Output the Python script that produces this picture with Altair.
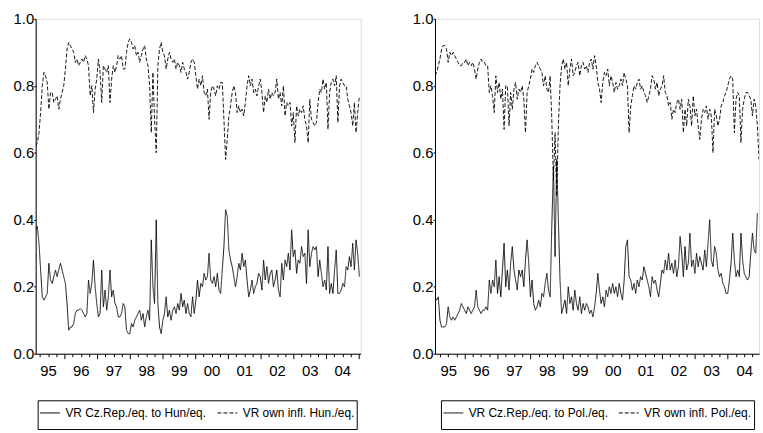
import altair as alt
import pandas as pd

FONT = "Liberation Sans"

# ---- left panel (Czech Rep. vs Hungary) ----
L_START = 1995.12
L_STEP = 5 / 99
L_SOLID_NAME = "VR Cz.Rep./eq. to Hun/eq."
L_DASH_NAME = "VR own infl. Hun./eq."
L_DASHED = [
    0.62, 0.63, 0.66, 0.72, 0.80, 0.84, 0.83, 0.81, 0.73, 0.78,
    0.78, 0.75, 0.76, 0.77, 0.73, 0.76, 0.78, 0.80, 0.85, 0.91,
    0.93, 0.92, 0.91, 0.90, 0.87, 0.88, 0.86, 0.87, 0.88, 0.87,
    0.89, 0.88, 0.86, 0.77, 0.80, 0.72, 0.79, 0.82, 0.88, 0.84,
    0.75, 0.86, 0.85, 0.84, 0.86, 0.75, 0.82, 0.86, 0.84, 0.86,
    0.89, 0.88, 0.89, 0.85, 0.85, 0.90, 0.93, 0.94, 0.93, 0.91,
    0.92, 0.89, 0.90, 0.87, 0.89, 0.91, 0.92, 0.88, 0.86, 0.80,
    0.66, 0.84, 0.70, 0.60, 0.86, 0.91, 0.93, 0.90, 0.89, 0.85,
    0.88, 0.90, 0.88, 0.87, 0.88, 0.85, 0.87, 0.86, 0.84, 0.87,
    0.85, 0.84, 0.82, 0.84, 0.87, 0.88, 0.87, 0.83, 0.79, 0.82,
    0.80, 0.83, 0.78, 0.77, 0.79, 0.70, 0.78, 0.80, 0.79, 0.77,
    0.80, 0.79, 0.81, 0.81, 0.70, 0.58, 0.64, 0.71, 0.74, 0.78,
    0.80, 0.78, 0.72, 0.74, 0.72, 0.73, 0.71, 0.75, 0.80, 0.83,
    0.80, 0.82, 0.78, 0.79, 0.77, 0.80, 0.82, 0.78, 0.72, 0.77,
    0.75, 0.79, 0.76, 0.78, 0.77, 0.78, 0.82, 0.76, 0.78, 0.74,
    0.80, 0.71, 0.75, 0.74, 0.75, 0.68, 0.72, 0.63, 0.74, 0.71,
    0.73, 0.72, 0.74, 0.70, 0.68, 0.63, 0.76, 0.70, 0.69, 0.68,
    0.69, 0.75, 0.79, 0.78, 0.82, 0.79, 0.81, 0.67, 0.78, 0.81,
    0.82, 0.80, 0.83, 0.69, 0.80, 0.82, 0.81, 0.80, 0.80, 0.76,
    0.74, 0.72, 0.68, 0.75, 0.66, 0.72, 0.77,
]
L_SOLID = [
    0.37, 0.38, 0.33, 0.25, 0.17, 0.16, 0.17, 0.18, 0.27, 0.22,
    0.21, 0.23, 0.25, 0.23, 0.25, 0.27, 0.25, 0.23, 0.21, 0.15,
    0.07, 0.08, 0.08, 0.09, 0.12, 0.13, 0.13, 0.135, 0.13, 0.12,
    0.11, 0.12, 0.22, 0.18, 0.21, 0.28, 0.20, 0.15, 0.11, 0.12,
    0.25, 0.14, 0.19, 0.13, 0.17, 0.25, 0.17, 0.19, 0.15, 0.14,
    0.11, 0.11, 0.12, 0.15, 0.14, 0.07, 0.06, 0.06, 0.09, 0.08,
    0.10, 0.11, 0.12, 0.13, 0.10, 0.12, 0.08, 0.11, 0.13, 0.10,
    0.34, 0.20, 0.15, 0.40, 0.15, 0.08, 0.06, 0.10, 0.12, 0.17,
    0.11, 0.13, 0.10, 0.13, 0.14, 0.12, 0.15, 0.13, 0.18, 0.14,
    0.16, 0.12, 0.15, 0.12, 0.11, 0.17, 0.12, 0.16, 0.22, 0.17,
    0.21, 0.20, 0.24, 0.22, 0.23, 0.30, 0.22, 0.21, 0.23, 0.20,
    0.24, 0.19, 0.18, 0.25, 0.32, 0.43, 0.41, 0.31, 0.28, 0.26,
    0.23, 0.20, 0.23, 0.27, 0.25, 0.30, 0.26, 0.28, 0.22, 0.17,
    0.19, 0.22, 0.18, 0.20, 0.21, 0.24, 0.23, 0.19, 0.28, 0.22,
    0.26, 0.21, 0.24, 0.25, 0.20, 0.22, 0.25, 0.19, 0.17, 0.27,
    0.22, 0.28, 0.26, 0.30, 0.25, 0.37, 0.29, 0.31, 0.24, 0.28,
    0.27, 0.32, 0.29, 0.30, 0.21, 0.37, 0.26, 0.30, 0.32, 0.31,
    0.32, 0.23, 0.28, 0.24, 0.20, 0.22, 0.19, 0.32, 0.18, 0.21,
    0.18, 0.25, 0.31, 0.18, 0.18, 0.19, 0.21, 0.20, 0.26, 0.25,
    0.29, 0.26, 0.33, 0.25, 0.34, 0.30, 0.23,
]

# ---- right panel (Czech Rep. vs Poland) ----
R_START = 1995.10
R_STEP = 0.05
R_SOLID_NAME = "VR Cz.Rep./eq. to Pol./eq."
R_DASH_NAME = "VR own infl. Pol./eq."
R_DASHED = [
    0.83, 0.84, 0.86, 0.88, 0.91, 0.92, 0.92, 0.91, 0.87, 0.90,
    0.89, 0.90, 0.89, 0.88, 0.87, 0.86, 0.86, 0.87, 0.87, 0.88,
    0.86, 0.87, 0.86, 0.87, 0.85, 0.82, 0.85, 0.87, 0.88, 0.87,
    0.87, 0.86, 0.86, 0.78, 0.80, 0.77, 0.72, 0.83, 0.78, 0.81,
    0.76, 0.79, 0.67, 0.80, 0.80, 0.68, 0.78, 0.73, 0.79, 0.81,
    0.76, 0.79, 0.78, 0.80, 0.76, 0.66, 0.78, 0.80, 0.82, 0.85,
    0.84, 0.86, 0.87, 0.86, 0.85, 0.84, 0.80, 0.83, 0.79, 0.78,
    0.83, 0.70, 0.52, 0.66, 0.47, 0.68, 0.80, 0.86, 0.88, 0.85,
    0.87, 0.80, 0.85, 0.88, 0.83, 0.84, 0.86, 0.87, 0.83, 0.86,
    0.87, 0.85, 0.86, 0.84, 0.87, 0.88, 0.85, 0.89, 0.86, 0.81,
    0.79, 0.75, 0.81, 0.84, 0.83, 0.85, 0.80, 0.83, 0.81, 0.78,
    0.81, 0.79, 0.80, 0.82, 0.80, 0.84, 0.82, 0.80, 0.66, 0.74,
    0.77, 0.80, 0.79, 0.81, 0.82, 0.79, 0.80, 0.78, 0.77, 0.75,
    0.77, 0.79, 0.83, 0.82, 0.79, 0.81, 0.77, 0.79, 0.80, 0.83,
    0.78, 0.77, 0.74, 0.75, 0.70, 0.73, 0.72, 0.75, 0.76, 0.73,
    0.76, 0.66, 0.73, 0.68, 0.76, 0.74, 0.68, 0.77, 0.71, 0.73,
    0.68, 0.64, 0.70, 0.73, 0.72, 0.74, 0.70, 0.73, 0.71, 0.60,
    0.73, 0.71, 0.68, 0.70, 0.74, 0.75, 0.77, 0.78, 0.80, 0.82,
    0.83, 0.82, 0.66, 0.76, 0.78, 0.77, 0.63, 0.73, 0.76, 0.78,
    0.78, 0.77, 0.76, 0.71, 0.76, 0.74, 0.68, 0.58,
]
R_SOLID = [
    0.17, 0.16, 0.17, 0.10, 0.08, 0.08, 0.08, 0.09, 0.14, 0.11,
    0.10, 0.11, 0.10, 0.11, 0.12, 0.13, 0.15, 0.14, 0.13, 0.12,
    0.14, 0.13, 0.12, 0.13, 0.14, 0.19, 0.14, 0.13, 0.12, 0.13,
    0.13, 0.14, 0.13, 0.22, 0.18, 0.22, 0.20, 0.28, 0.18, 0.23,
    0.17, 0.25, 0.33, 0.20, 0.25, 0.19, 0.27, 0.32, 0.25, 0.22,
    0.19, 0.25, 0.23, 0.25, 0.20, 0.28, 0.34, 0.27, 0.17, 0.22,
    0.15, 0.13, 0.14, 0.16, 0.14, 0.18, 0.17, 0.21, 0.24, 0.19,
    0.17, 0.38, 0.56, 0.29, 0.58, 0.40, 0.22, 0.12, 0.14, 0.16,
    0.12, 0.20, 0.15, 0.17, 0.13, 0.19, 0.15, 0.13, 0.17, 0.12,
    0.15, 0.13, 0.15, 0.14, 0.12, 0.13, 0.11, 0.14, 0.18, 0.24,
    0.19, 0.15, 0.17, 0.14, 0.19, 0.17, 0.20, 0.18, 0.21, 0.18,
    0.20, 0.17, 0.21, 0.18, 0.16, 0.22, 0.32, 0.34, 0.23, 0.22,
    0.19, 0.21, 0.18, 0.22, 0.20, 0.23, 0.22, 0.26, 0.24, 0.22,
    0.20, 0.17, 0.23, 0.21, 0.22, 0.19, 0.17, 0.21, 0.25, 0.24,
    0.28, 0.25, 0.30, 0.25, 0.27, 0.24, 0.28, 0.23, 0.26, 0.35,
    0.30, 0.23, 0.32, 0.25, 0.27, 0.36, 0.26, 0.28, 0.24, 0.30,
    0.26, 0.29, 0.27, 0.25, 0.31, 0.26, 0.33, 0.40, 0.28, 0.26,
    0.32, 0.30, 0.25, 0.23, 0.24, 0.21, 0.20, 0.18, 0.18, 0.22,
    0.27, 0.36, 0.28, 0.23, 0.25, 0.23, 0.36, 0.28, 0.24, 0.23,
    0.22, 0.23, 0.30, 0.36, 0.31, 0.30, 0.42,
]

Y_TICKS = [0.0, 0.2, 0.4, 0.6, 0.8, 1.0]
YEARS = list(range(1995, 2005))
MINOR_TICKS = [y + q for y in YEARS for q in (0.25, 0.5, 0.75)]
MAJOR_TICKS = [y + 1 for y in YEARS]

L_DOMAIN = [1995.12, 2005.06]
R_DOMAIN = [1995.10, 2004.95]


def make_df(start, step, solid, dashed, solid_name, dash_name):
    rows = []
    for i, v in enumerate(solid):
        rows.append({"t": start + i * step, "v": v, "series": solid_name})
    for i, v in enumerate(dashed):
        rows.append({"t": start + i * step, "v": v, "series": dash_name})
    return pd.DataFrame(rows)


LABEL_EXPR = (
    "datum.value % 1 == 0.5 ? ((floor(datum.value) % 100) < 10 ? "
    "'0' + (floor(datum.value) % 100) : '' + (floor(datum.value) % 100)) : ''"
)


def panel(df, domain, names, width, legend_x):
    xscale = alt.Scale(domain=domain, nice=False, zero=False)
    yscale = alt.Scale(domain=[0, 1], nice=False)
    minor_axis = alt.Axis(
        orient="bottom",
        values=MINOR_TICKS,
        labelExpr=LABEL_EXPR,
        title=None,
        grid=False,
        tickSize=3,
        tickWidth=1,
        tickColor="black",
        domainColor="black",
        labelFont=FONT,
        labelFontSize=15,
        labelColor="black",
        labelPadding=7,
        labelOverlap=False,
        labelFlush=False,
    )
    major_axis = alt.Axis(
        orient="bottom",
        values=MAJOR_TICKS,
        labels=False,
        title=None,
        grid=False,
        domain=False,
        tickSize=5,
        tickWidth=1,
        tickColor="black",
    )
    y_axis = alt.Axis(
        values=Y_TICKS,
        format=".1f",
        title=None,
        grid=False,
        tickSize=2,
        tickColor="black",
        domainColor="black",
        labelFont=FONT,
        labelFontSize=15,
        labelColor="black",
        labelPadding=0,
    )
    legend = alt.Legend(
        orient="none",
        legendX=legend_x,
        legendY=385,
        direction="horizontal",
        title=" ",
        titleOrient="bottom",
        titleFontSize=8,
        titlePadding=0,
        strokeColor="black",
        padding=2,
        symbolType="stroke",
        symbolSize=400,
        symbolStrokeWidth=1,
        symbolStrokeColor="black",
        labelFont=FONT,
        labelFontSize=12,
        labelColor="black",
        labelOffset=5,
        columnPadding=8,
        labelLimit=400,
    )
    lines = (
        alt.Chart(df)
        .mark_line(color="black", strokeWidth=0.9, clip=True)
        .encode(
            x=alt.X("t:Q", scale=xscale, axis=minor_axis),
            y=alt.Y("v:Q", scale=yscale, axis=y_axis),
            strokeDash=alt.StrokeDash(
                "series:N",
                scale=alt.Scale(domain=names, range=[[1, 0], [4, 2]]),
                legend=legend,
            ),
        )
    )
    ticks = (
        alt.Chart(df)
        .mark_point(opacity=0)
        .encode(
            x=alt.X("t:Q", scale=xscale, axis=major_axis),
        )
    )
    return (
        alt.layer(lines, ticks)
        .resolve_axis(x="independent")
        .properties(width=width, height=338)
    )


left = panel(
    make_df(L_START, L_STEP, L_SOLID, L_DASHED, L_SOLID_NAME, L_DASH_NAME),
    L_DOMAIN, [L_SOLID_NAME, L_DASH_NAME], 328, 2,
)
right = panel(
    make_df(R_START, R_STEP, R_SOLID, R_DASHED, R_SOLID_NAME, R_DASH_NAME),
    R_DOMAIN, [R_SOLID_NAME, R_DASH_NAME], 327, 6,
)

chart = (
    alt.hconcat(left, right, spacing=49)
    .resolve_scale(strokeDash="independent", x="independent")
    .resolve_legend(strokeDash="independent")
    .properties(padding={"left": 12, "top": 9, "right": 0, "bottom": 0})
    .configure_view(stroke="black", strokeWidth=1)
    .configure(background="white")
)

chart.save("out.html", embed_options={"renderer": "svg", "actions": False})
